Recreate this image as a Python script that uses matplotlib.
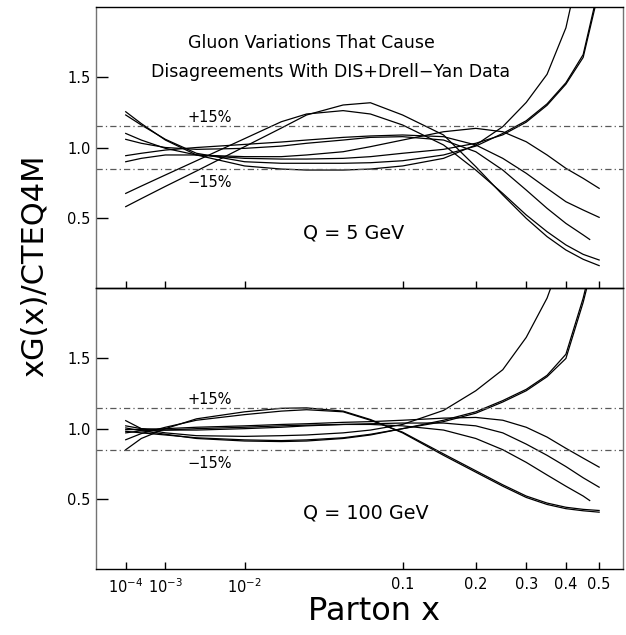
import numpy as np
import matplotlib
matplotlib.use('Agg')
import matplotlib.pyplot as plt

plt.rcParams.update({
    'font.family': 'DejaVu Sans',
    'font.size': 10.5,
})

# sampling points in parton x
x_pts = [1e-4, 3e-4, 1e-3, 3e-3, 0.01, 0.02, 0.03, 0.05, 0.07, 0.1,
         0.15, 0.2, 0.25, 0.3, 0.35, 0.4, 0.45, 0.5]
# one curve per panel stops a little short of 0.5
x_short = [1e-4, 3e-4, 1e-3, 3e-3, 0.01, 0.02, 0.03, 0.05, 0.07, 0.1,
           0.15, 0.2, 0.25, 0.3, 0.35, 0.4, 0.45, 0.47]

# Q = 5 GeV panel
q5_up1 = [1.254, 1.17, 1.053, 0.947, 0.869, 0.847, 0.84, 0.84, 0.847, 0.869,
          0.923, 1.018, 1.148, 1.32, 1.52, 1.85, 2.40, 3.00]
q5_up2 = [1.231, 1.16, 1.058, 0.959, 0.899, 0.888, 0.888, 0.888, 0.892, 0.906,
          0.947, 1.01, 1.10, 1.19, 1.31, 1.46, 1.66, 2.15]
q5_up3 = [1.10, 1.053, 0.994, 0.947, 0.923, 0.918, 0.918, 0.923, 0.935, 0.959,
          0.987, 1.03, 1.09, 1.18, 1.30, 1.45, 1.64, 2.12]
q5_pk1 = [0.674, 0.726, 0.805, 0.906, 1.063, 1.183, 1.238, 1.262, 1.238, 1.16,
          1.018, 0.84, 0.674, 0.521, 0.402, 0.308, 0.241, 0.201]
q5_pk2 = [0.58, 0.637, 0.724, 0.833, 1.006, 1.138, 1.231, 1.302, 1.318, 1.231,
          1.089, 0.864, 0.663, 0.497, 0.367, 0.272, 0.206, 0.161]
q5_dn1 = [0.899, 0.923, 0.947, 0.947, 0.935, 0.935, 0.947, 0.97, 1.006, 1.053,
          1.112, 1.136, 1.112, 1.041, 0.947, 0.852, 0.781, 0.71]
q5_dn2 = [0.942, 0.959, 0.982, 1.0, 1.022, 1.039, 1.053, 1.072, 1.082, 1.089,
          1.077, 1.018, 0.923, 0.817, 0.71, 0.615, 0.556, 0.504]
q5_dn3 = [1.058, 1.03, 1.0, 0.987, 0.994, 1.01, 1.03, 1.053, 1.072, 1.077,
          1.053, 0.97, 0.84, 0.698, 0.568, 0.461, 0.379, 0.347]

# Q = 100 GeV panel
q100_up1 = [1.057, 1.00, 0.97, 0.95, 0.945, 0.95, 0.955, 0.97, 0.99, 1.03,
            1.13, 1.27, 1.42, 1.65, 1.93, 2.30, 2.80, 3.40]
q100_up2 = [1.005, 0.985, 0.96, 0.93, 0.912, 0.908, 0.912, 0.93, 0.955, 1.00,
            1.06, 1.12, 1.20, 1.28, 1.38, 1.53, 1.93, 2.40]
q100_up3 = [0.981, 0.97, 0.955, 0.935, 0.92, 0.915, 0.92, 0.935, 0.96, 1.00,
            1.05, 1.11, 1.19, 1.27, 1.37, 1.50, 1.90, 2.35]
q100_pk1 = [0.85, 0.93, 1.00, 1.07, 1.12, 1.145, 1.148, 1.125, 1.065, 0.97,
            0.81, 0.69, 0.59, 0.51, 0.46, 0.43, 0.415, 0.405]
q100_pk2 = [0.921, 0.965, 1.01, 1.06, 1.10, 1.125, 1.135, 1.12, 1.06, 0.975,
            0.82, 0.70, 0.60, 0.52, 0.47, 0.44, 0.425, 0.417]
q100_dn1 = [0.993, 0.995, 1.00, 1.01, 1.02, 1.03, 1.035, 1.045, 1.05, 1.06,
            1.075, 1.08, 1.06, 1.01, 0.94, 0.86, 0.79, 0.726]
q100_dn2 = [1.02, 1.00, 0.99, 0.99, 1.00, 1.01, 1.02, 1.03, 1.035, 1.04,
            1.04, 1.02, 0.97, 0.89, 0.81, 0.73, 0.65, 0.583]
q100_dn3 = [0.97, 0.985, 0.99, 1.00, 1.01, 1.02, 1.025, 1.03, 1.03, 1.02,
            0.99, 0.93, 0.85, 0.76, 0.67, 0.59, 0.52, 0.488]

q5_curves = [(x_pts, q5_up1), (x_pts, q5_up2), (x_pts, q5_up3), (x_pts, q5_pk1),
             (x_pts, q5_pk2), (x_pts, q5_dn1), (x_pts, q5_dn2), (x_short, q5_dn3)]
q100_curves = [(x_pts, q100_up1), (x_pts, q100_up2), (x_pts, q100_up3), (x_pts, q100_pk1),
               (x_pts, q100_pk2), (x_pts, q100_dn1), (x_pts, q100_dn2), (x_short, q100_dn3)]

x_ticks = [1e-4, 1e-3, 1e-2, 0.1, 0.2, 0.3, 0.4, 0.5]
x_ticklabels = ['$10^{-4}$', '$10^{-3}$', '$10^{-2}$', '0.1', '0.2', '0.3', '0.4', '0.5']
y_ticks = [0.5, 1.0, 1.5]
band = [0.85, 1.15]

POW = 0.3


def fwd(x):
    return np.sign(x) * np.abs(x) ** POW


def inv(y):
    return np.sign(y) * np.abs(y) ** (1.0 / POW)


fig = plt.figure(figsize=(6.26, 6.35), dpi=100)
ax_top = fig.add_axes([0.1534, 0.546, 0.8418, 0.4434])
ax_bot = fig.add_axes([0.1534, 0.1039, 0.8418, 0.4421])

panels = [(ax_top, q5_curves, 'Q = 5 GeV'), (ax_bot, q100_curves, 'Q = 100 GeV')]
for ax, curves, qlabel in panels:
    ax.set_xscale('function', functions=(fwd, inv))
    ax.set_xlim(0.0161 ** (1 / POW), 0.850 ** (1 / POW))
    ax.set_ylim(0.0, 2.0)
    for xs, ys in curves:
        ax.plot(xs, ys, color='black', lw=0.9, solid_joinstyle='round')
    for b in band:
        ax.axhline(b, color='0.35', lw=0.9, dashes=(5, 2.5, 1, 2.5))
    ax.text(0.173, 1.21, '+15%', transform=ax.get_yaxis_transform(), fontsize=10.5,
            ha='left', va='center')
    ax.text(0.173, 0.75, '\u221215%', transform=ax.get_yaxis_transform(), fontsize=10.5,
            ha='left', va='center')
    ax.text(0.392, 0.198, qlabel, transform=ax.transAxes, fontsize=13.8,
            ha='left', va='center')
    ax.set_xticks(x_ticks)
    ax.set_yticks(y_ticks)
    ax.set_yticklabels(['0.5', '1.0', '1.5'])
    ax.tick_params(axis='y', direction='in', length=8.6, width=1, pad=4, labelsize=10.5)
    ax.tick_params(axis='x', direction='in', length=5, width=1, pad=6, labelsize=10.5)
    ax.minorticks_off()
    for side in ['left', 'right']:
        ax.spines[side].set_color('0.45')
    for sp in ax.spines.values():
        sp.set_linewidth(1.0)

ax_top.set_xticklabels([])
ax_bot.set_xticklabels(x_ticklabels)
# lower panel drawn without its own background so the shared divider stays black
ax_bot.patch.set_visible(False)
ax_bot.spines['top'].set_color('black')

ax_top.text(0.408, 0.871, 'Gluon Variations That Cause', transform=ax_top.transAxes,
            fontsize=12.5, ha='center', va='center')
ax_top.text(0.445, 0.768, 'Disagreements With DIS+Drell\u2212Yan Data',
            transform=ax_top.transAxes, fontsize=12.5, ha='center', va='center')

fig.text(35 / 626, 1 - 266 / 635, 'xG(x)/CTEQ4M', rotation=90, fontsize=22,
         ha='center', va='center')
fig.text(374 / 626, 1 - 612 / 635, 'Parton x', fontsize=23, ha='center', va='center')

fig.savefig('out.png', dpi=100)
